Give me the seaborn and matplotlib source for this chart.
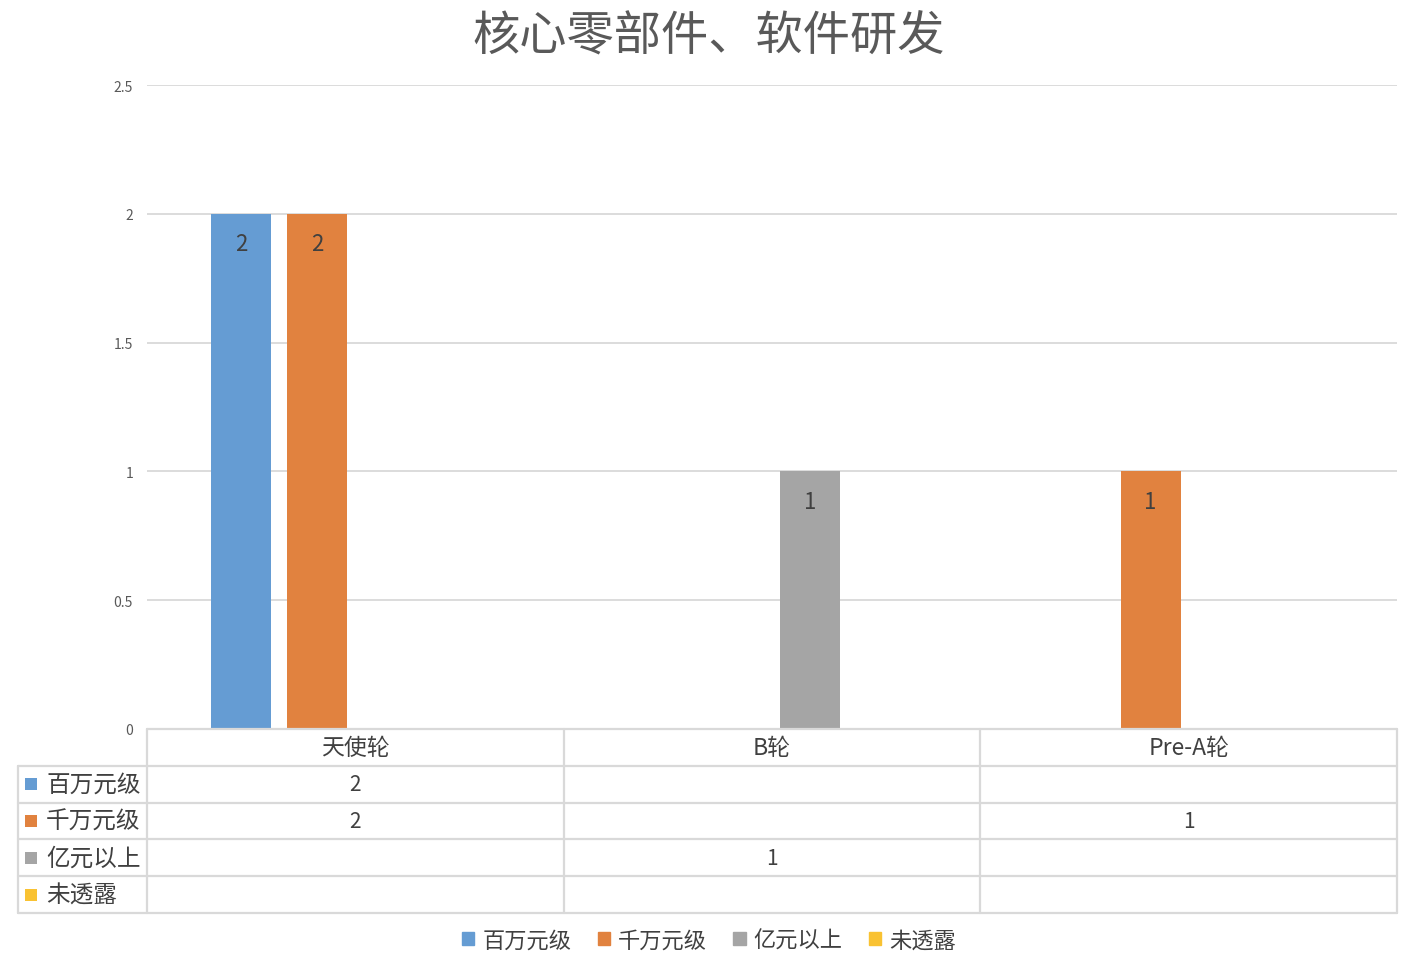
import numpy as np
import pandas as pd
import seaborn as sns
import matplotlib.pyplot as plt
from matplotlib.patches import Patch

# 数据
categories = ['天使轮', 'B轮', 'Pre-A轮']
series = ['百万元级', '千万元级', '亿元以上', '未透露']
vals_baiwan = [2, None, None]
vals_qianwan = [2, None, 1]
vals_yiyuan = [None, 1, None]
vals_weitoulu = [None, None, None]
colors = ['#659CD3', '#E1823F', '#A5A5A5', '#F9C232']

table_vals = [vals_baiwan, vals_qianwan, vals_yiyuan, vals_weitoulu]

rows = []
for s, vals in zip(series, table_vals):
    for c, v in zip(categories, vals):
        if v is not None:
            rows.append({'轮次': c, '规模': s, '数量': v})
df = pd.DataFrame(rows)

sns.set_theme(style='white')
plt.rcParams['font.family'] = ['Noto Sans CJK SC', 'DejaVu Sans']

W, H = 1418, 970
fig = plt.figure(figsize=(W / 100, H / 100), dpi=100)
ax_l, ax_r, ax_t, ax_b = 147, 1397, 86, 730
ax = fig.add_axes([ax_l / W, 1 - ax_b / H, (ax_r - ax_l) / W, (ax_b - ax_t) / H])

sns.barplot(data=df, x='轮次', y='数量', hue='规模', order=categories,
            hue_order=series, palette=colors, width=0.73, gap=0.21,
            legend=False, ax=ax, saturation=1, linewidth=0)

for cont in ax.containers:
    ax.bar_label(cont, fmt='{:.0f}', padding=-30, fontsize=16, color='#404040')

ax.set_xlim(-0.5, 2.5)
ax.set_ylim(0, 2.5)
ax.set_yticks([0, 0.5, 1, 1.5, 2, 2.5])
ax.set_yticklabels(['0', '0.5', '1', '1.5', '2', '2.5'], fontsize=10, color='#595959')
ax.tick_params(axis='y', length=0, pad=10)
ax.set_xticks([])
ax.set_xlabel('')
ax.set_ylabel('')
ax.yaxis.grid(True, color='#D9D9D9', linewidth=1.3)
ax.set_axisbelow(True)
for sp in ax.spines.values():
    sp.set_visible(False)

fig.suptitle('核心零部件、软件研发', y=1 - 37 / H, va='center', fontsize=34, color='#595959')

# 数据表
line_c = '#D9D9D9'
row_h = 36.8
x_left = 18
px = lambda x: x / W
py = lambda y: 1 - y / H
cat_w = (ax_r - ax_l) / 3

# 横线
for i in range(6):
    y = ax_b + i * row_h
    x0 = ax_l if i == 0 else x_left
    fig.add_artist(plt.Line2D([px(x0), px(ax_r)], [py(y), py(y)], color=line_c, lw=1.6))
# 竖线
for j in range(4):
    x = ax_l + j * cat_w
    fig.add_artist(plt.Line2D([px(x), px(x)], [py(ax_b), py(ax_b + 5 * row_h)], color=line_c, lw=1.6))
fig.add_artist(plt.Line2D([px(x_left), px(x_left)], [py(ax_b + row_h), py(ax_b + 5 * row_h)], color=line_c, lw=1.6))

# 表头
for j, c in enumerate(categories):
    fig.text(px(ax_l + (j + 0.5) * cat_w), py(ax_b + 0.5 * row_h), c,
             ha='center', va='center', fontsize=16.5, color='#404040')

# 行
for i, (s, vals, col) in enumerate(zip(series, table_vals, colors)):
    yc = ax_b + (i + 1.5) * row_h
    fig.add_artist(plt.Rectangle((px(x_left + 7), py(yc + 6)), px(12), 12 / H,
                                 color=col, lw=0))
    fig.text(px(x_left + 28), py(yc), s, ha='left', va='center', fontsize=17, color='#404040')
    for j, v in enumerate(vals):
        if v is not None:
            fig.text(px(ax_l + (j + 0.5) * cat_w), py(yc), f'{v:.0f}',
                     ha='center', va='center', fontsize=15, color='#404040')

# 图例
handles = [Patch(color=c, label=s) for s, c in zip(series, colors)]
fig.legend(handles=handles, loc='center', bbox_to_anchor=(0.5, py(941)), ncol=4,
           frameon=False, fontsize=16, handlelength=0.55, handleheight=0.55,
           handletextpad=0.35, columnspacing=1.2, labelcolor='#404040')

fig.savefig('out.png', dpi=100)
